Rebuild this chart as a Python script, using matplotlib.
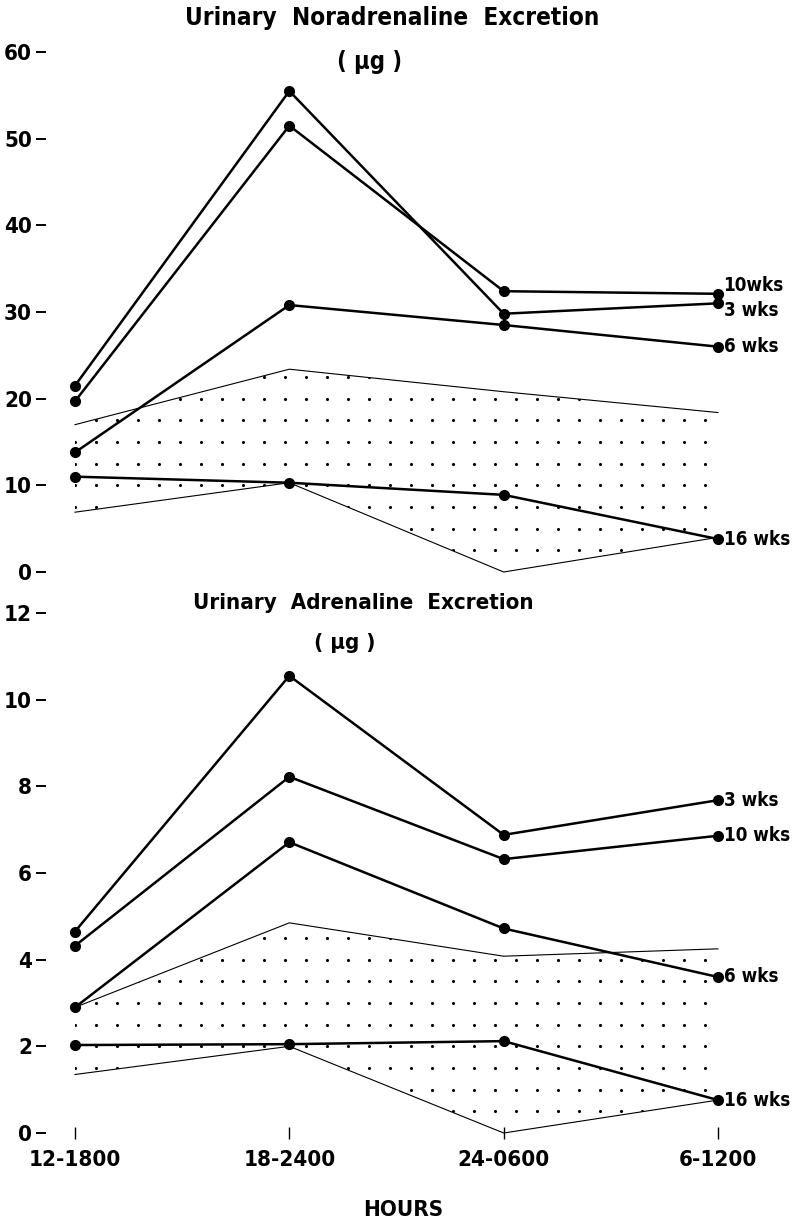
import numpy as np
import matplotlib
matplotlib.use('Agg')
import matplotlib.pyplot as plt
from matplotlib.patches import Polygon

periods = ['12-1800', '18-2400', '24-0600', '6-1200']

# urinary noradrenaline (ug)
nor_3wk = [21.5, 55.5, 29.8, 31.0]
nor_10wk = [19.7, 51.5, 32.4, 32.1]
nor_6wk = [13.8, 30.8, 28.5, 26.0]
nor_16wk = [11.0, 10.3, 8.9, 3.8]
nor_norm_hi = [17.0, 23.4, 20.8, 18.4]
nor_norm_lo = [6.9, 10.3, 0.0, 4.0]

# urinary adrenaline (ug)
adr_3wk = [4.65, 10.55, 6.88, 7.68]
adr_10wk = [4.32, 8.22, 6.32, 6.86]
adr_6wk = [2.9, 6.71, 4.72, 3.6]
adr_16wk = [2.03, 2.05, 2.12, 0.76]
adr_norm_hi = [2.9, 4.85, 4.08, 4.25]
adr_norm_lo = [1.35, 2.0, 0.0, 0.76]

plt.rcParams['font.family'] = ['DejaVu Sans']
plt.rcParams['font.weight'] = 'bold'
plt.rcParams['font.stretch'] = 'condensed'

W, H = 794, 1223
fig = plt.figure(figsize=(W / 100, H / 100), dpi=100)

# x: category 0 at px 75, category 3 at px 718
left_px, right_px = 46, 790
sx = (718 - 75) / 3
xlim = (-(75 - left_px) / sx, 3 + (right_px - 718) / sx)


def make_ax(top_px, bot_px):
    return fig.add_axes([left_px / W, 1 - bot_px / H,
                         (right_px - left_px) / W, (bot_px - top_px) / H])


ax1 = make_ax(52, 572)
ax2 = make_ax(613, 1133)
x = np.arange(len(periods))


def stipple(ax, lo, hi, dy):
    verts = np.column_stack([np.r_[x, x[::-1]], np.r_[hi, lo[::-1]]])
    patch = Polygon(verts, closed=True, fill=False, edgecolor='none')
    ax.add_patch(patch)
    gx, gy = np.meshgrid(np.arange(0, 3.05, 21 / sx),
                         np.arange(0, max(hi) + dy, dy))
    sc = ax.scatter(gx.ravel(), gy.ravel(), s=5, c='k', linewidths=0)
    sc.set_clip_path(patch)
    ax.plot(x, hi, color='k', lw=0.8, clip_on=False)
    ax.plot(x, lo, color='k', lw=0.8, clip_on=False)


def series(ax, vals, label, dy):
    ax.plot(x, vals, color='k', lw=1.8, marker='o', ms=7, clip_on=False)
    ax.annotate(label, (x[-1], vals[-1]), xytext=(4, dy),
                textcoords='offset points', ha='left', va='center',
                fontsize=13.5)


def style(ax, ymax, step):
    ax.set_xlim(*xlim)
    ax.set_ylim(0, ymax)
    ax.set_yticks(np.arange(0, ymax + step, step))
    for s in ax.spines.values():
        s.set_visible(False)
    ax.tick_params(axis='y', direction='out', length=7, width=1.4, pad=3,
                   labelsize=16)
    ax.patch.set_alpha(0)


# top panel
stipple(ax1, nor_norm_lo, nor_norm_hi, 2.5)
series(ax1, nor_3wk, '3 wks', -5)
series(ax1, nor_10wk, '10wks', 6)
series(ax1, nor_6wk, '6 wks', 0)
series(ax1, nor_16wk, '16 wks', 0)
style(ax1, 60, 10)
ax1.set_xticks([])
ax1.text(0.465, 1.065, 'Urinary  Noradrenaline  Excretion',
         transform=ax1.transAxes, ha='center', va='center', fontsize=17.5)
ax1.text(0.435, 0.98, '( µg )', transform=ax1.transAxes,
         ha='center', va='center', fontsize=17)

# bottom panel
stipple(ax2, adr_norm_lo, adr_norm_hi, 0.5)
series(ax2, adr_3wk, '3 wks', 0)
series(ax2, adr_10wk, '10 wks', 0)
series(ax2, adr_6wk, '6 wks', 0)
series(ax2, adr_16wk, '16 wks', 0)
style(ax2, 12, 2)
ax2.set_xticks(x)
ax2.set_xticklabels(periods)
ax2.tick_params(axis='x', direction='inout', length=9, width=1.0,
                pad=8, labelsize=16)
ax2.text(0.427, 1.02, 'Urinary  Adrenaline  Excretion',
         transform=ax2.transAxes, ha='center', va='center', fontsize=16)
ax2.text(0.402, 0.943, '( µg )', transform=ax2.transAxes,
         ha='center', va='center', fontsize=16)
fig.text(403 / W, 1 - 1210 / H, 'HOURS', ha='center', va='center',
         fontsize=16)

fig.savefig('out.png', dpi=100)
